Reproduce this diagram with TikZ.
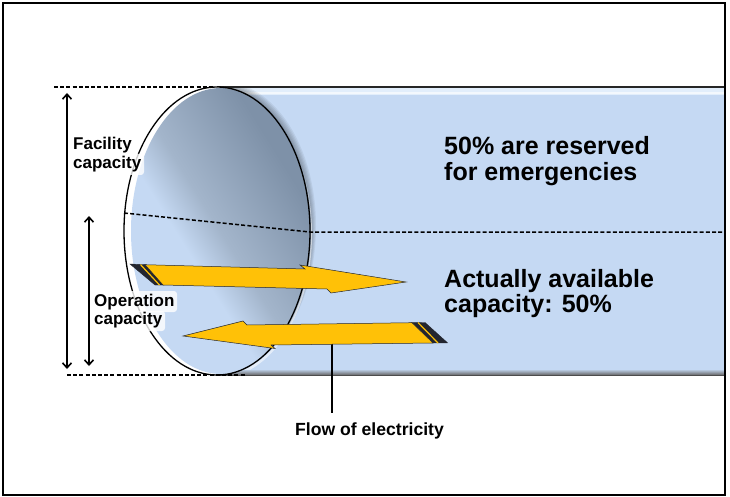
\documentclass[tikz,border=0pt]{standalone}
\usepackage{fontspec}
\setmainfont{Liberation Sans}[BoldFont=* Bold]
\usetikzlibrary{arrows.meta}

\definecolor{tubeblue}{HTML}{C5D9F3}
\definecolor{tubelight}{HTML}{E2EEFB}
\definecolor{discdark}{HTML}{7E91A8}
\definecolor{discmid}{HTML}{A3B5CB}
\definecolor{flowyellow}{HTML}{FFC107}
\definecolor{flowdark}{HTML}{23262F}

\pgfdeclareverticalshading{discshade}{100bp}{color(0bp)=(tubeblue); color(44bp)=(tubeblue); color(50bp)=(discmid); color(64bp)=(discdark); color(100bp)=(discdark)}

\tikzset{
	dimline/.style={line width=1.6pt, {Straight Barb[length=5pt,width=9pt]}-{Straight Barb[length=5pt,width=9pt]}},
	levelline/.style={line width=1.5pt, dash pattern=on 4pt off 2.2pt},
	flowarrow/.style={fill=flowyellow, draw=flowdark, line width=.5pt, line join=miter},
	flowtail/.style={fill=flowdark, draw=flowdark, line width=.4pt},
	textpatch/.style={fill=white, opacity=.8, rounded corners=3pt},
	bigtext/.style={font=\fontsize{25}{25.5}\selectfont\bfseries, align=left, anchor=base west, inner sep=0pt},
	smalltext/.style={font=\fontsize{17}{18.5}\selectfont\bfseries, align=left, anchor=base west, inner sep=0pt}
}

\begin{document}
\begin{tikzpicture}[x=1pt,y=-1pt]

	\def\ecx{217}
	\def\ecy{231}
	\def\erx{93}
	\def\ery{144}

	\useasboundingbox (0,0) rectangle (730,497);
	\fill[white] (0,0) rectangle (730,497);

	% tube
	\fill[tubeblue] (\ecx,87) rectangle (725,375);
	\fill[tubelight] (\ecx,88) rectangle (725,95);
	\fill[white, opacity=.6] (\ecx,92) rectangle (725,94);
	\shade[top color=tubeblue, bottom color=black!60] (\ecx,369) rectangle (725,375);

	% shadow and glow beside the opening
	\begin{scope}
		\clip (\ecx,88) rectangle (725,369);
		\foreach \i in {1,...,6}
			\fill[black, opacity=.06] ({\ecx+\i},{\ecy-\i*.8}) ellipse ({\erx} and {\ery});
		\fill[white, opacity=.55] (\ecx+2,\ecy+3) ellipse ({\erx} and {\ery});
	\end{scope}
	\draw[black!85, line width=1.3pt] (\ecx,87) -- (725,87);
	\draw[black!70, line width=1pt] (\ecx,375) -- (725,375);

	% opening
	\fill[white] (\ecx,\ecy) ellipse ({\erx} and {\ery});
	\begin{scope}
		\clip (221,231) ellipse (90 and 143);
		\shade[shading=discshade, shading angle=-58] (60,71) rectangle (380,391);
	\end{scope}
	\draw[black, line width=1.3pt] (\ecx,\ecy) ellipse ({\erx} and {\ery});

	% levels
	\coordinate (topleft) at (54,87);
	\coordinate (topright) at (215,87);
	\coordinate (botleft) at (67,375);
	\coordinate (botright) at (246,375);
	\coordinate (midleft) at (124,213);
	\coordinate (midcenter) at (310,232);
	\coordinate (midright) at (725,232);
	\draw[levelline] (topleft) -- (topright);
	\draw[levelline] (botleft) -- (botright);
	\draw[levelline] (midleft) -- (midcenter) -- (midright);

	% capacity arrows
	\coordinate (facilitytop) at (67,93);
	\coordinate (facilitybot) at (67,369);
	\coordinate (operationtop) at (89,216);
	\coordinate (operationbot) at (89,366);
	\draw[dimline] (facilitytop) -- (facilitybot);
	\draw[dimline] (operationtop) -- (operationbot);

	% leader
	\coordinate (flowstart) at (332,344);
	\coordinate (flowend) at (332,413);
	\draw[black, line width=1.7pt] (flowstart) -- (flowend);

	% electricity arrows
	\fill[flowtail] (130,264) -- (146,264.7) -- (164,285) -- (155,285) -- cycle;
	\draw[flowyellow, line width=1.2pt] (140.5,264.6) -- (159.5,285);
	\draw[flowarrow] (145,264.7) -- (305,269) -- (300,265) -- (406,282) -- (331,293) -- (327,289) -- (163,285) -- cycle;

	\fill[flowtail] (411,322.7) -- (425,322.5) -- (447.5,342.8) -- (433,343) -- cycle;
	\draw[flowyellow, line width=1.2pt] (418,322.6) -- (438,343);
	\draw[flowarrow] (183,336) -- (243,321) -- (247,325) -- (412,322.7) -- (433,343) -- (271,345) -- (275,348.5) -- cycle;

	% labels
	\fill[textpatch] (127,154) rectangle (144,175);
	\fill[textpatch] (127,291) rectangle (177,312);
	\fill[textpatch] (127,311) rectangle (165,331);
	\node[bigtext] (reserved) at (444,180.5) {50\% are reserved\\for emergencies};
	\node[bigtext] (available) at (444,312.5) {Actually available\\capacity: 50\%};
	\node[smalltext] (facility) at (73,168.5) {Facility\\capacity};
	\node[smalltext] (operation) at (94,324.5) {Operation\\capacity};
	\node[smalltext, font=\fontsize{17.6}{20}\selectfont\bfseries] (flow) at (295,435) {Flow of electricity};

	% frame
	\draw[black, line width=1.8pt] (3,3) rectangle (725,495);

\end{tikzpicture}
\end{document}
